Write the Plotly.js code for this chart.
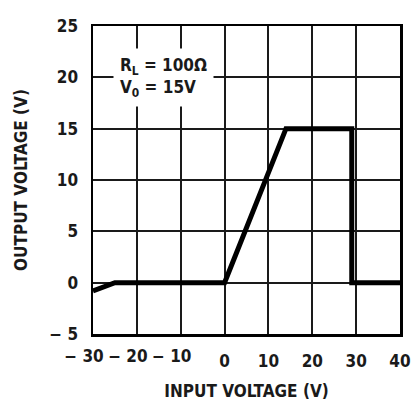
<!DOCTYPE html>
<html>
<head>
<meta charset="utf-8">
<script src="https://cdn.plot.ly/plotly-3.0.1.min.js"></script>
<style>html,body{margin:0;padding:0;background:#fff;}#chart{width:414px;height:401px;}</style>
</head>
<body>
<div id="chart"></div>
<script>
// Data
const inputVoltage = [-30, -25, 0, 14, 29, 29, 40];
const outputVoltage = [-0.8, 0, 0, 15, 15, 0, 0];

const xTickValsPos = [0, 10, 20, 30, 40];
const xTickTextPos = ['0', '10', '20', '30', '40'];
const xTickValsNeg = [-30, -20, -10];
const xTickTextNeg = ['\u2212 30', '\u2212 20', '\u2212 10'];
const yTickVals = [-5, 0, 5, 10, 15, 20, 25];
const yTickText = ['\u2212 5', '0', '5', '10', '15', '20', '25'];

const FONT = 'DejaVu Sans Condensed, Liberation Sans Narrow, DejaVu Sans, sans-serif';
const INK = '#1a1a1a';
const f = (s) => ({family: FONT, size: s, color: INK, weight: 'bold', stretch: 'condensed'});

const trace = {
  x: inputVoltage,
  y: outputVoltage,
  type: 'scatter',
  mode: 'lines',
  line: {color: '#000', width: 5},
  hoverinfo: 'skip',
  showlegend: false
};
// same curve bound to the overlay axis that carries the negative tick labels (invisible)
const traceNegAxis = {
  x: inputVoltage,
  y: outputVoltage,
  xaxis: 'x2',
  yaxis: 'y',
  type: 'scatter',
  mode: 'lines',
  line: {color: 'rgba(0,0,0,0)', width: 0},
  hoverinfo: 'skip',
  showlegend: false
};

const axisCommon = {
  zeroline: false,
  ticks: '',
  tickangle: 0,
  fixedrange: true
};

const layout = {
  width: 414,
  height: 401,
  margin: {l: 93, r: 14, t: 26, b: 67},
  paper_bgcolor: '#fff',
  plot_bgcolor: '#fff',
  font: f(17),
  xaxis: Object.assign({}, axisCommon, {
    range: [-30, 40],
    tickvals: xTickValsPos,
    ticktext: xTickTextPos,
    showgrid: true,
    gridcolor: '#1a1a1a',
    gridwidth: 2,
    showline: true,
    mirror: true,
    linecolor: '#000',
    linewidth: 2.5,
    ticklabelstandoff: 10,
    tickfont: f(17),
    title: {text: 'INPUT VOLTAGE (V)', font: f(17), standoff: 15}
  }),
  xaxis2: Object.assign({}, axisCommon, {
    range: [-30, 40],
    overlaying: 'x',
    anchor: 'y',
    side: 'bottom',
    tickvals: xTickValsNeg,
    ticktext: xTickTextNeg,
    showgrid: true,
    gridcolor: '#1a1a1a',
    gridwidth: 2,
    showline: false,
    ticklabelstandoff: 10,
    ticklabelshift: -9,
    tickfont: f(17)
  }),
  yaxis: Object.assign({}, axisCommon, {
    range: [-5, 25],
    tickvals: yTickVals,
    ticktext: yTickText,
    showgrid: true,
    gridcolor: '#1a1a1a',
    gridwidth: 2,
    showline: true,
    mirror: true,
    linecolor: '#000',
    linewidth: 2.5,
    ticklabelstandoff: 9,
    tickfont: f(17),
    title: {text: 'OUTPUT VOLTAGE (V)', font: f(17), standoff: 18}
  }),
  annotations: [{
    xref: 'x', yref: 'y',
    x: -25.5, y: 20,
    xanchor: 'left', yanchor: 'middle',
    align: 'left',
    showarrow: false,
    text: 'R<sub>L</sub> = 100\u03A9<br>V<sub>0</sub> = 15V',
    font: f(17),
    bgcolor: '#fff',
    borderpad: 6
  }]
};

Plotly.newPlot('chart', [traceNegAxis, trace], layout, {displayModeBar: false, staticPlot: true});
</script>
</body>
</html>
